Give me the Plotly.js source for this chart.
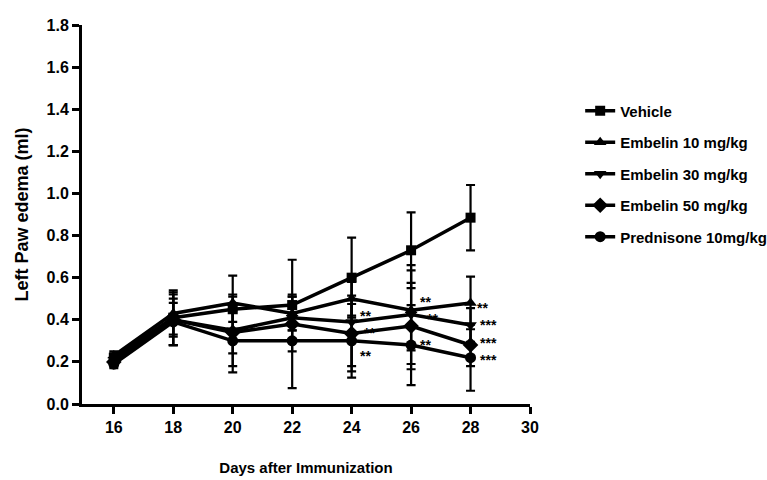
<!DOCTYPE html>
<html>
<head>
<meta charset="utf-8">
<script src="https://cdn.plot.ly/plotly-3.0.1.min.js"></script>
<style>html,body{margin:0;padding:0;background:#fff;}#chart{width:767px;height:480px;}</style>
</head>
<body>
<div id="chart"></div>
<script>
// ---- data ----
var days = [16, 18, 20, 22, 24, 26, 28];
var seriesNames = ["Vehicle", "Embelin 10 mg/kg", "Embelin 30 mg/kg", "Embelin 50 mg/kg", "Prednisone 10mg/kg"];
var vehicle   = [0.22, 0.41, 0.45, 0.47, 0.60, 0.73, 0.885];
var vehicleSD = [0.02, 0.13, 0.06, 0.05, 0.19, 0.18, 0.155];
var emb10     = [0.23, 0.43, 0.48, 0.43, 0.50, 0.445, 0.48];
var emb10SD   = [0.02, 0.10, 0.13, 0.08, 0.08, 0.19, 0.125];
var emb30     = [0.21, 0.40, 0.35, 0.41, 0.39, 0.425, 0.375];
var emb30SD   = [0.02, 0.12, 0.17, 0.10, 0.21, 0.235, 0.08];
var emb50     = [0.20, 0.40, 0.34, 0.38, 0.335, 0.37, 0.28];
var emb50SD   = [0.02, 0.08, 0.10, 0.305, 0.18, 0.205, 0.10];
var pred      = [0.19, 0.39, 0.30, 0.30, 0.30, 0.28, 0.22];
var predSD    = [0.02, 0.11, 0.15, 0.05, 0.175, 0.19, 0.157];
var xTicks = [16, 18, 20, 22, 24, 26, 28, 30];
var yTicks = [0, 0.2, 0.4, 0.6, 0.8, 1.0, 1.2, 1.4, 1.6, 1.8];
var yTickText = ["0.0","0.2","0.4","0.6","0.8","1.0","1.2","1.4","1.6","1.8"];
// significance marks (centre of each mark)
var starX    = [24.45, 24.59, 24.45, 26.50, 26.71, 26.50, 28.41, 28.61, 28.61, 28.61];
var starY    = [0.433, 0.351, 0.24, 0.50, 0.42, 0.296, 0.47, 0.39, 0.304, 0.222];
var starText = ["**", "**", "**", "**", "**", "**", "**", "***", "***", "***"];

var means = [vehicle, emb10, emb30, emb50, pred];
var sds = [vehicleSD, emb10SD, emb30SD, emb50SD, predSD];
var symbols = ["square", "triangle-up", "triangle-down", "diamond", "circle"];
var sizes = [10, 11, 11, 12, 11];

var font = "'Liberation Sans', Arial, sans-serif";

var traces = means.map(function (m, i) {
  return {
    x: days, y: m, name: seriesNames[i], type: "scatter", mode: "lines+markers",
    legendgroup: "g" + i,
    line: {color: "#000", width: 3.5},
    marker: {symbol: symbols[i], size: sizes[i], color: "#000"},
    error_y: {type: "data", array: sds[i], visible: true, color: "#000", thickness: 2.2, width: 4.5}
  };
});

var annotations = starX.map(function (x, i) {
  return {x: x, y: starY[i], xref: "x", yref: "y", text: starText[i], showarrow: false,
    xanchor: "center", yanchor: "middle", yshift: -3, borderpad: 0,
    font: {family: font, size: 14, color: "#000", weight: "bold"}};
});

var layout = {
  width: 767, height: 480,
  margin: {l: 82, r: 237, t: 25, b: 76, autoexpand: false},
  paper_bgcolor: "#fff", plot_bgcolor: "#fff",
  showlegend: true,
  legend: {x: 1.112, y: 0.607, xanchor: "left", yanchor: "middle", traceorder: "grouped", tracegroupgap: 9,
    font: {family: font, size: 15, color: "#000", weight: "bold"}, bgcolor: "rgba(0,0,0,0)"},
  xaxis: {
    range: [14.93, 30], tickvals: xTicks, ticktext: xTicks.map(String),
    showgrid: false, zeroline: false, showline: true, linecolor: "#000", linewidth: 3,
    ticks: "outside", ticklen: 7, tickwidth: 3, tickcolor: "#000",
    tickfont: {family: font, size: 16, color: "#000", weight: "bold"},
    title: {text: "Days after Immunization", standoff: 28, font: {family: font, size: 15, color: "#000", weight: "bold"}}
  },
  yaxis: {
    range: [0, 1.8], tickvals: yTicks, ticktext: yTickText,
    showgrid: false, zeroline: false, showline: true, linecolor: "#000", linewidth: 3,
    ticks: "outside", ticklen: 7, tickwidth: 3, tickcolor: "#000",
    tickfont: {family: font, size: 16, color: "#000", weight: "bold"},
    title: {text: "Left Paw edema (ml)", standoff: 14, font: {family: font, size: 18, color: "#000", weight: "bold"}}
  },
  annotations: annotations
};

Plotly.newPlot("chart", traces, layout, {displayModeBar: false, staticPlot: true});
</script>
</body>
</html>
